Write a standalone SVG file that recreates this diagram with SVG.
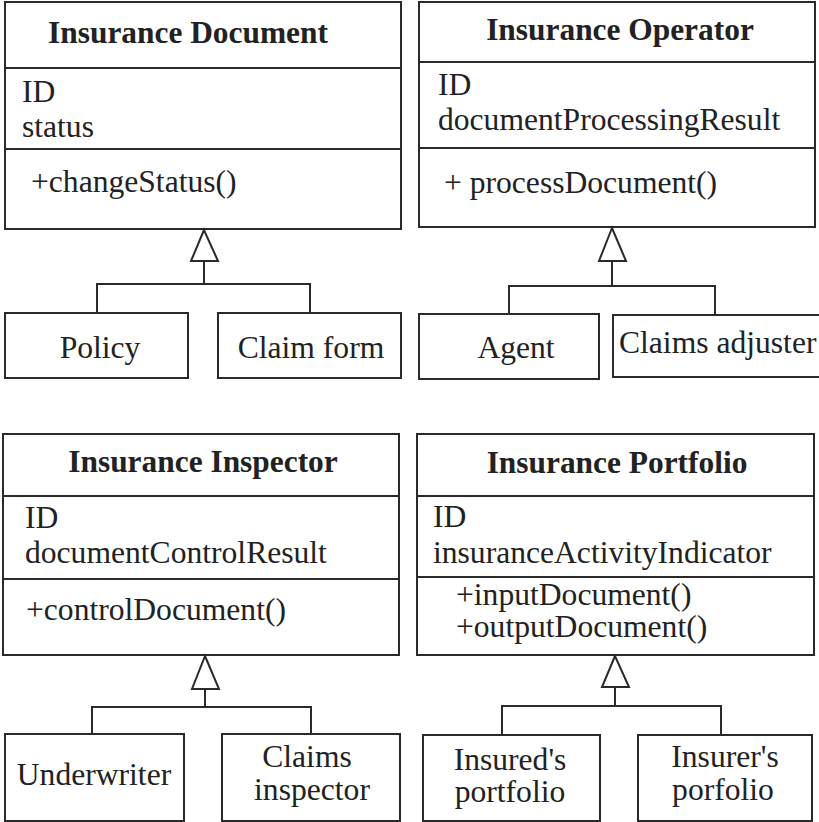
<svg xmlns="http://www.w3.org/2000/svg" width="819" height="822" viewBox="0 0 819 822">
<style>
rect, line.div { fill: #fff; stroke: #2a2a2a; stroke-width: 2; }
.c polyline, .c line { fill: none; stroke: #2a2a2a; stroke-width: 2; }
.c polygon { fill: #fff; stroke: #2a2a2a; stroke-width: 2; stroke-linejoin: miter; }
text { font-family: "Liberation Serif", "Times New Roman", serif; font-size: 31.6px; fill: #222; }
.t { font-weight: bold; font-size: 31.4px; text-anchor: middle; }
.m { text-anchor: middle; }
</style>
<rect x="0" y="0" width="819" height="822" style="fill:#fff;stroke:none"/>

<g id="insurance-document">
<rect x="5" y="2" width="396" height="227"/>
<line class="div" x1="5" y1="68" x2="401" y2="68"/>
<line class="div" x1="5" y1="149" x2="401" y2="149"/>
<text class="t" x="188" y="43">Insurance Document</text>
<text x="22" y="102">ID</text>
<text x="22" y="137">status</text>
<text x="31" y="192">+changeStatus()</text>
</g>
<g id="policy">
<rect x="5" y="313" width="183" height="65"/>
<text class="m" x="100" y="358">Policy</text>
</g>
<g id="claim-form">
<rect x="218" y="313" width="183" height="65"/>
<text class="m" x="311" y="358">Claim form</text>
</g>

<g id="insurance-operator">
<rect x="419" y="2" width="396" height="225"/>
<line class="div" x1="419" y1="62" x2="815" y2="62"/>
<line class="div" x1="419" y1="148" x2="815" y2="148"/>
<text class="t" x="620" y="40">Insurance Operator</text>
<text x="438" y="95">ID</text>
<text x="438" y="130">documentProcessingResult</text>
<text x="444" y="193">+ processDocument()</text>
</g>
<g id="agent">
<rect x="419" y="314" width="180" height="65"/>
<text class="m" x="516" y="358">Agent</text>
</g>
<g id="claims-adjuster">
<rect x="613" y="315" width="212" height="62"/>
<text x="619" y="353">Claims adjuster</text>
</g>

<g id="insurance-inspector">
<rect x="3" y="434" width="396" height="221"/>
<line class="div" x1="3" y1="496" x2="399" y2="496"/>
<line class="div" x1="3" y1="579" x2="399" y2="579"/>
<text class="t" x="203" y="472">Insurance Inspector</text>
<text x="25" y="528">ID</text>
<text x="25" y="563">documentControlResult</text>
<text x="26" y="620">+controlDocument()</text>
</g>
<g id="underwriter">
<rect x="5" y="734" width="179" height="87"/>
<text class="m" x="94" y="785">Underwriter</text>
</g>
<g id="claims-inspector">
<rect x="222" y="734" width="178" height="87"/>
<text class="m" x="307" y="767">Claims</text>
<text class="m" x="312" y="800">inspector</text>
</g>

<g id="insurance-portfolio">
<rect x="417" y="434" width="397" height="221"/>
<line class="div" x1="417" y1="496" x2="814" y2="496"/>
<line class="div" x1="417" y1="577" x2="814" y2="577"/>
<text class="t" x="617" y="473">Insurance Portfolio</text>
<text x="433" y="527">ID</text>
<text x="433" y="563">insuranceActivityIndicator</text>
<text x="456" y="605">+inputDocument()</text>
<text x="456" y="637">+outputDocument()</text>
</g>
<g id="insureds-portfolio">
<rect x="423" y="735" width="177" height="86"/>
<text class="m" x="510" y="770">Insured's</text>
<text class="m" x="510" y="802">portfolio</text>
</g>
<g id="insurers-porfolio">
<rect x="638" y="735" width="174" height="86"/>
<text class="m" x="725" y="767">Insurer's</text>
<text class="m" x="723" y="800">porfolio</text>
</g>

<g id="connectors" class="c">
<line x1="204" y1="261" x2="204" y2="284"/>
<polyline points="97,313 97,284 310,284 310,313"/>
<polygon points="204,230 191,261 218,261"/>

<line x1="612" y1="261" x2="612" y2="286"/>
<polyline points="509,314 509,286 715,286 715,315"/>
<polygon points="612,228 599,261 626,261"/>

<line x1="205" y1="689" x2="205" y2="707"/>
<polyline points="92,734 92,707 311,707 311,734"/>
<polygon points="205,656 192,689 219,689"/>

<line x1="615" y1="687" x2="615" y2="706"/>
<polyline points="502,735 502,706 721,706 721,735"/>
<polygon points="615,656 602,687 629,687"/>
</g>
</svg>
